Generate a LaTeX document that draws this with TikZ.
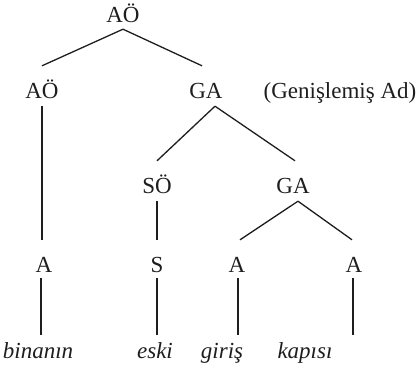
\documentclass[tikz,border=0pt]{standalone}
\usepackage{fontspec}
\setmainfont{Liberation Serif}
\definecolor{InkGray}{HTML}{1E1E1E}

\begin{document}
\begin{tikzpicture}[x=1pt,y=-1pt,
    cat/.style={inner sep=0pt,anchor=base,text height=32pt,text depth=8pt,
                font=\fontsize{23}{27}\selectfont,text=InkGray},
    word/.style={inner sep=0pt,anchor=base,text height=23pt,text depth=6pt,
                font=\fontsize{23}{27}\selectfont\itshape,text=InkGray},
    branch/.style={line width=1.3pt,color=InkGray}]
    \useasboundingbox (0,0) rectangle (420,375);
    % categories
    \node[cat,text depth=7pt] (root) at (123,22) {AÖ};
    \node[cat] (modifier) at (42,98) {AÖ};
    \node[cat] (head) at (206,98) {GA};
    \node[cat] (note) at (340,98) {(Genişlemiş Ad)};
    \node[cat] (adjective) at (157,193) {SÖ};
    \node[cat] (compound) at (293,193) {GA};
    \node[cat,text depth=6pt] (nounBina) at (44,272) {A};
    \node[cat,text depth=6pt] (adjEski) at (157,272) {S};
    \node[cat,text depth=6pt] (nounGiris) at (237,272) {A};
    \node[cat,text depth=6pt] (nounKapi) at (354,272) {A};
    % words
    \node[word] (wordBina) at (38,358) {binanın};
    \node[word] (wordEski) at (155,358) {eski};
    \node[word] (wordGiris) at (222,358) {giriş};
    \node[word] (wordKapi) at (305,358) {kapısı};
    % branches
    \draw[branch] (root.south) -- (modifier.north);
    \draw[branch] (root.south) -- ([xshift=-4]head.north);
    \draw[branch] ([xshift=9]head.south) -- (adjective.north);
    \draw[branch] ([xshift=9]head.south) -- ([xshift=2]compound.north);
    \draw[branch] ([xshift=5]compound.south) -- ([xshift=3]nounGiris.north);
    \draw[branch] ([xshift=5]compound.south) -- ([xshift=-2]nounKapi.north);
    \draw[branch] (modifier.south) -- ([xshift=-2]nounBina.north);
    \draw[branch] (adjective.south) -- (adjEski.north);
    \draw[branch] ([xshift=-3]nounBina.south) -- ([xshift=-3]nounBina.south |- wordBina.north);
    \draw[branch] (adjEski.south) -- (adjEski.south |- wordEski.north);
    \draw[branch] ([xshift=1]nounGiris.south) -- ([xshift=1]nounGiris.south |- wordGiris.north);
    \draw[branch] ([xshift=-1]nounKapi.south) -- ([xshift=-1]nounKapi.south |- wordKapi.north);
\end{tikzpicture}
\end{document}
